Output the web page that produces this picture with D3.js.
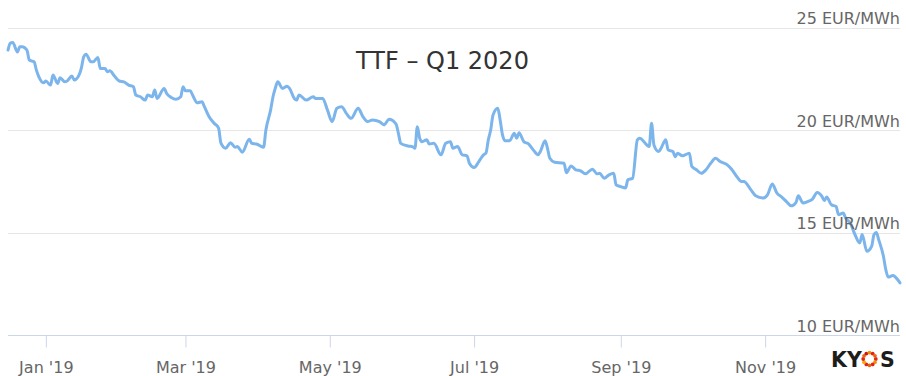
<!DOCTYPE html>
<html>
<head>
<meta charset="utf-8">
<script src="https://cdn.jsdelivr.net/npm/d3@7"></script>
<style>
  body { margin: 0; background: #fff; }
  svg { display: block; font-family: "DejaVu Sans", sans-serif; }
</style>
</head>
<body>
<svg id="chart" width="906" height="376"></svg>
<script>
// TTF Q1 2020 settlement prices (EUR/MWh)
var dates = [
  "2018-12-16","2018-12-17","2018-12-18","2018-12-20","2018-12-21","2018-12-22","2018-12-24","2018-12-25",
  "2018-12-27","2018-12-28","2018-12-29","2018-12-31","2019-01-01","2019-01-03","2019-01-04","2019-01-06",
  "2019-01-07","2019-01-09","2019-01-10","2019-01-12","2019-01-13","2019-01-15","2019-01-16","2019-01-17",
  "2019-01-18","2019-01-20","2019-01-21","2019-01-23","2019-01-24","2019-01-26","2019-01-27","2019-01-28",
  "2019-01-30","2019-02-01","2019-02-03","2019-02-05","2019-02-07","2019-02-08","2019-02-10","2019-02-12",
  "2019-02-13","2019-02-15","2019-02-16","2019-02-17","2019-02-20","2019-02-21","2019-02-23","2019-02-25",
  "2019-02-27","2019-02-28","2019-03-01","2019-03-03","2019-03-04","2019-03-06","2019-03-08","2019-03-09",
  "2019-03-11","2019-03-13","2019-03-15","2019-03-16","2019-03-18","2019-03-20","2019-03-22","2019-03-23",
  "2019-03-25","2019-03-28","2019-03-29","2019-03-31","2019-04-03","2019-04-04","2019-04-06","2019-04-07",
  "2019-04-08","2019-04-09","2019-04-11","2019-04-13","2019-04-14","2019-04-16","2019-04-17","2019-04-18",
  "2019-04-21","2019-04-24","2019-04-25","2019-04-28","2019-04-30","2019-05-02","2019-05-04","2019-05-06",
  "2019-05-08","2019-05-10","2019-05-13","2019-05-15","2019-05-17","2019-05-19","2019-05-22","2019-05-24",
  "2019-05-26","2019-05-29","2019-05-30","2019-05-31","2019-06-03","2019-06-05","2019-06-06","2019-06-07",
  "2019-06-08","2019-06-09","2019-06-11","2019-06-12","2019-06-14","2019-06-17","2019-06-19","2019-06-21",
  "2019-06-22","2019-06-24","2019-06-26","2019-06-28","2019-06-29","2019-07-01","2019-07-03","2019-07-05",
  "2019-07-06","2019-07-07","2019-07-08","2019-07-09","2019-07-11","2019-07-12","2019-07-13","2019-07-14",
  "2019-07-16","2019-07-18","2019-07-19","2019-07-20","2019-07-22","2019-07-24","2019-07-26","2019-07-28",
  "2019-07-29","2019-07-31","2019-08-01","2019-08-02","2019-08-04","2019-08-08","2019-08-09","2019-08-11",
  "2019-08-13","2019-08-15","2019-08-17","2019-08-20","2019-08-22","2019-08-23","2019-08-25","2019-08-27",
  "2019-08-29","2019-08-30","2019-09-01","2019-09-03","2019-09-04","2019-09-06","2019-09-08","2019-09-09",
  "2019-09-12","2019-09-13","2019-09-14","2019-09-15","2019-09-17","2019-09-18","2019-09-20","2019-09-21",
  "2019-09-23","2019-09-24","2019-09-25","2019-09-27","2019-09-30","2019-10-01","2019-10-03","2019-10-05",
  "2019-10-07","2019-10-09","2019-10-11","2019-10-13","2019-10-16","2019-10-18","2019-10-20","2019-10-22",
  "2019-10-23","2019-10-26","2019-10-28","2019-10-31","2019-11-02","2019-11-04","2019-11-06","2019-11-08",
  "2019-11-10","2019-11-12","2019-11-14","2019-11-15","2019-11-17","2019-11-19","2019-11-21","2019-11-23",
  "2019-11-25","2019-11-26","2019-11-27","2019-11-29","2019-12-01","2019-12-02","2019-12-04","2019-12-05",
  "2019-12-07","2019-12-09","2019-12-11","2019-12-12","2019-12-14","2019-12-16","2019-12-17","2019-12-18",
  "2019-12-19","2019-12-21","2019-12-22","2019-12-23","2019-12-25","2019-12-26","2019-12-28"
];

var prices = [
  23.90,24.24,24.27,23.81,24.06,24.06,23.90,23.41,
  23.33,22.92,22.60,22.30,22.39,22.19,22.68,22.27,
  22.55,22.35,22.39,22.63,22.44,22.68,23.02,23.57,
  23.70,23.33,23.33,23.54,23.00,23.00,22.84,22.89,
  22.63,22.39,22.35,22.19,22.11,21.71,21.62,21.46,
  21.71,21.62,21.95,21.54,22.03,21.79,21.59,21.50,
  21.62,22.11,21.91,21.91,21.71,21.33,21.38,21.14,
  20.65,20.34,20.09,19.36,19.11,19.38,19.16,19.19,
  18.92,19.55,19.35,19.32,19.16,20.00,20.98,21.62,
  22.05,22.35,22.03,22.14,22.03,21.54,21.46,21.71,
  21.46,21.62,21.54,21.54,20.98,20.41,21.06,21.14,
  20.81,20.57,21.06,20.65,20.41,20.49,20.41,20.25,
  20.52,20.29,19.84,19.35,19.22,19.19,19.11,20.16,
  19.60,19.43,19.52,19.32,19.35,18.79,19.35,19.43,
  19.11,19.19,18.79,18.74,18.38,18.17,18.46,18.79,
  18.87,19.52,20.00,20.73,21.06,20.49,19.76,19.48,
  19.48,19.84,19.60,19.87,19.43,19.32,19.03,18.79,
  18.95,19.48,19.11,18.62,18.43,18.38,17.92,18.25,
  18.06,18.01,17.86,18.09,17.86,17.89,17.65,17.81,
  17.89,17.33,17.24,17.17,17.57,17.65,19.52,19.60,
  19.27,19.19,20.33,19.27,18.95,19.11,19.52,19.03,
  18.95,18.70,18.87,18.74,18.87,18.22,18.06,17.89,
  18.06,18.38,18.62,18.46,18.30,18.06,17.73,17.49,
  17.49,17.08,16.79,16.68,16.84,17.37,16.92,16.73,
  16.51,16.30,16.46,16.79,16.44,16.51,16.63,16.95,
  16.76,16.56,16.73,16.35,16.27,15.87,15.95,15.71,
  15.46,14.89,14.49,14.90,14.08,14.32,14.89,15.00,
  14.65,13.84,13.19,12.83,12.90,12.83,12.54
];

var yTicks = [10, 15, 20, 25];
var monthTicks = ["2019-01-01", "2019-03-01", "2019-05-01", "2019-07-01", "2019-09-01", "2019-11-01"];
var title = "TTF \u2013 Q1 2020";
var unit = "EUR/MWh";

var parse = d3.timeParse("%Y-%m-%d");
var data = dates.map(function(d, i) { return {date: parse(d), value: prices[i]}; });

var svg = d3.select("#chart"),
    plot = {left: 8, right: 900, top: 27.5, bottom: 335};

var x = d3.scaleTime()
  .domain([parse("2018-12-16"), parse("2019-12-28")])
  .range([plot.left, plot.right]);

var y = d3.scaleLinear()
  .domain([10, 25])
  .range([plot.bottom, plot.top]);

// grid lines
svg.append("g")
  .selectAll("line")
  .data(yTicks.filter(function(d) { return d > 10; }))
  .enter().append("line")
    .attr("x1", plot.left)
    .attr("x2", plot.right)
    .attr("y1", function(d) { return Math.round(y(d)) + 0.5; })
    .attr("y2", function(d) { return Math.round(y(d)) + 0.5; })
    .attr("stroke", "#e6e6e6")
    .attr("stroke-width", 1.2);

// x axis
var xAxis = svg.append("g")
  .attr("transform", "translate(0," + (Math.round(plot.bottom) + 0.5) + ")")
  .call(d3.axisBottom(x)
    .tickValues(monthTicks.map(parse))
    .tickSize(12)
    .tickPadding(14)
    .tickFormat(d3.timeFormat("%b '%y")));

xAxis.select(".domain").remove();
xAxis.append("line")
  .attr("x1", plot.left)
  .attr("x2", plot.right)
  .attr("stroke", "#ccd6eb")
  .attr("stroke-width", 1.2);
xAxis.selectAll(".tick line").attr("stroke", "#ccd6eb");
xAxis.selectAll(".tick text")
  .attr("fill", "#666")
  .style("font-size", "16px")
  .style("font-family", "'DejaVu Sans', sans-serif");

// price line
var line = d3.line()
  .x(function(d) { return x(d.date); })
  .y(function(d) { return y(d.value); })
  .curve(d3.curveMonotoneX);

svg.append("path")
  .datum(data)
  .attr("fill", "none")
  .attr("stroke", "#7cb5ec")
  .attr("stroke-width", 3)
  .attr("stroke-linejoin", "round")
  .attr("stroke-linecap", "round")
  .attr("d", line);

// y labels sit right aligned above their grid line
svg.append("g")
  .selectAll("text")
  .data(yTicks)
  .enter().append("text")
    .attr("x", plot.right)
    .attr("y", function(d) { return y(d) - 3.5; })
    .attr("text-anchor", "end")
    .attr("fill", "#666")
    .style("font-size", "16px")
    .text(function(d) { return d + " " + unit; });

svg.append("text")
  .attr("x", 442.5)
  .attr("y", 69)
  .attr("text-anchor", "middle")
  .attr("fill", "#333")
  .style("font-size", "24px")
  .text(title);

// KYOS logo, the O is a ring of dots
var logo = svg.append("g").attr("transform", "translate(831,366.5)");
logo.append("text")
  .attr("x", 0)
  .attr("fill", "#1d1d1b")
  .style("font-size", "20.5px")
  .style("font-weight", "bold")
  .text("KY");
logo.append("text")
  .attr("x", 49)
  .attr("fill", "#1d1d1b")
  .style("font-size", "20.5px")
  .style("font-weight", "bold")
  .text("S");
var dotColors = ["#e2231a", "#f39200", "#e2231a", "#ec6608", "#e2231a", "#f7a600",
                 "#e2231a", "#ec6608", "#c8161d", "#f39200", "#e2231a", "#ec6608"];
logo.append("g")
  .attr("transform", "translate(38.5,-7.5)")
  .selectAll("circle")
  .data(dotColors)
  .enter().append("circle")
    .attr("cx", function(d, i) { return 6.3 * Math.cos(i / dotColors.length * 2 * Math.PI); })
    .attr("cy", function(d, i) { return 6.3 * Math.sin(i / dotColors.length * 2 * Math.PI); })
    .attr("r", 1.9)
    .attr("fill", function(d) { return d; });
</script>
</body>
</html>
